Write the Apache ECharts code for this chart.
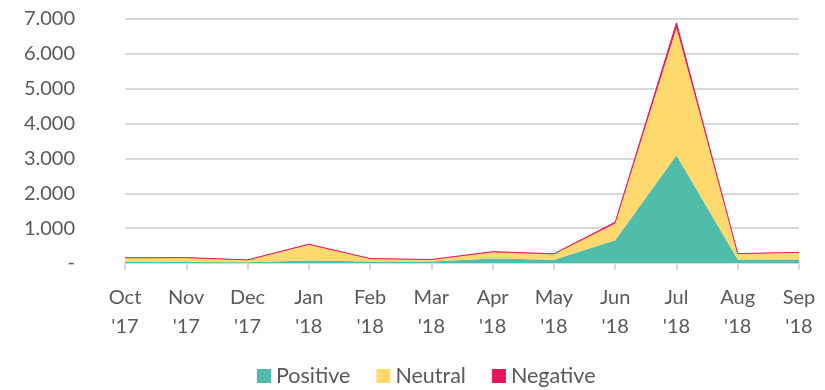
<!DOCTYPE html>
<html>
<head>
<meta charset="utf-8">
<script src="https://cdn.jsdelivr.net/npm/echarts@6/dist/echarts.min.js"></script>
<style>
  html, body { margin: 0; padding: 0; background: #fff; }
  #chart { width: 825px; height: 390px; }
</style>
</head>
<body>
<div id="chart"></div>
<script>
// Monthly mention counts by sentiment
const months = ["Oct\n'17", "Nov\n'17", "Dec\n'17", "Jan\n'18", "Feb\n'18", "Mar\n'18",
                "Apr\n'18", "May\n'18", "Jun\n'18", "Jul\n'18", "Aug\n'18", "Sep\n'18"];
const positive = [30, 30, 25, 70, 40, 40, 130, 90, 650, 3090, 100, 100];
const neutral  = [115, 120, 60, 450, 80, 55, 180, 160, 480, 3650, 160, 190];
const negative = [5, 5, 5, 20, 8, 5, 15, 15, 40, 150, 10, 15];
const yTicks = { min: 0, max: 7000, step: 1000 };

const textColor = '#595959';
const gridColor = '#D9D9D9';
const font = 'Lato, "Open Sans", sans-serif';
const fontSize = 20;

function fmtThousands(v) {
  if (v === 0) return '-';
  return String(v).replace(/\B(?=(\d{3})+(?!\d))/g, '.');
}

function areaSeries(name, data, color, lineWidth) {
  return {
    name: name,
    type: 'line',
    stack: 'total',
    data: data,
    symbol: 'none',
    itemStyle: { color: color },
    lineStyle: { color: color, width: lineWidth },
    areaStyle: { color: color, opacity: 1 },
    emphasis: { disabled: true }
  };
}

const chart = echarts.init(document.getElementById('chart'));
chart.setOption({
  animation: false,
  textStyle: { fontFamily: font },
  grid: { left: 125, right: 26, top: 19, bottom: 127 },
  legend: {
    top: 360,
    left: 252,
    icon: 'rect',
    itemWidth: 14,
    itemHeight: 14,
    itemGap: 26,
    textStyle: { color: textColor, fontSize: 21.5, fontFamily: font },
    data: ['Positive', 'Neutral', 'Negative']
  },
  xAxis: {
    type: 'category',
    boundaryGap: false,
    data: months,
    axisLine: { lineStyle: { color: gridColor, width: 2 } },
    axisTick: { show: true, length: 7, lineStyle: { color: gridColor, width: 2 } },
    axisLabel: {
      color: textColor, fontSize: fontSize, fontFamily: font,
      margin: 20, lineHeight: 29, interval: 0
    }
  },
  yAxis: {
    type: 'value',
    min: yTicks.min,
    max: yTicks.max,
    interval: yTicks.step,
    axisLine: { show: false },
    axisTick: { show: false },
    splitLine: { lineStyle: { color: gridColor, width: 2 } },
    axisLabel: {
      color: textColor, fontSize: fontSize, fontFamily: font, margin: 50,
      formatter: fmtThousands
    }
  },
  series: [
    areaSeries('Positive', positive, '#50BDAA', 0),
    areaSeries('Neutral', neutral, '#FFD96E', 0),
    areaSeries('Negative', negative, '#E8175D', 1)
  ]
});
</script>
</body>
</html>
